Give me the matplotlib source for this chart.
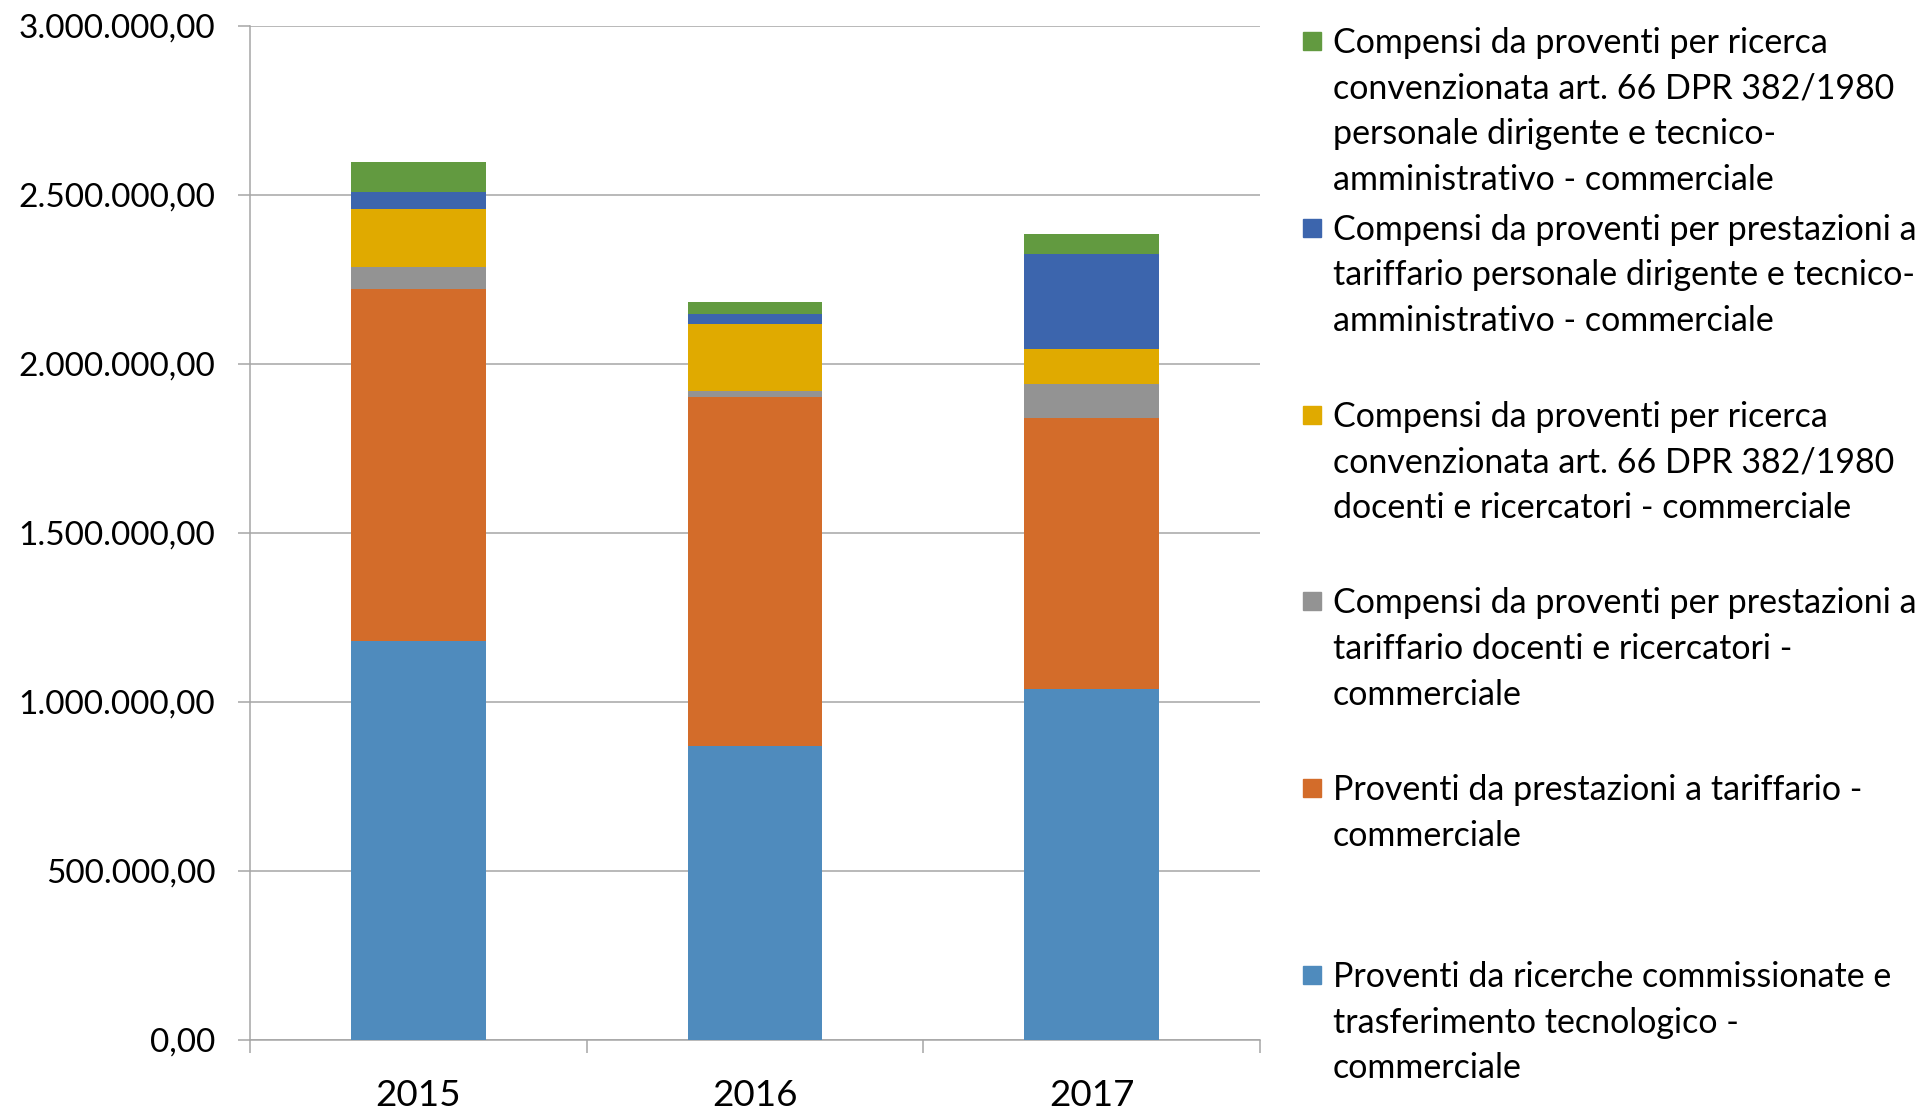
import matplotlib
matplotlib.use("Agg")
import matplotlib.pyplot as plt
import numpy as np
from matplotlib.ticker import FuncFormatter
from matplotlib.patches import Rectangle

plt.rcParams['font.family'] = ['Lato', 'DejaVu Sans']

years = ['2015', '2016', '2017']

# stacked series, bottom to top
ricerche_commissionate = [1181000, 871000, 1039000]
prestazioni_tariffario = [1042000, 1030000, 800000]
comp_tariffario_docenti = [64000, 19500, 101500]
comp_ricerca_docenti = [173000, 198500, 103000]
comp_tariffario_dirigenti = [49000, 29500, 283000]
comp_ricerca_dirigenti = [89000, 34000, 58000]

series = [ricerche_commissionate, prestazioni_tariffario, comp_tariffario_docenti,
          comp_ricerca_docenti, comp_tariffario_dirigenti, comp_ricerca_dirigenti]
labels = [
    ["Proventi da ricerche commissionate e", "trasferimento tecnologico -", "commerciale"],
    ["Proventi da prestazioni a tariffario -", "commerciale"],
    ["Compensi da proventi per prestazioni a", "tariffario docenti e ricercatori -", "commerciale"],
    ["Compensi da proventi per ricerca", "convenzionata art. 66 DPR 382/1980",
     "docenti e ricercatori - commerciale"],
    ["Compensi da proventi per prestazioni a", "tariffario personale dirigente e tecnico-",
     "amministrativo - commerciale"],
    ["Compensi da proventi per ricerca", "convenzionata art. 66 DPR 382/1980",
     "personale dirigente e tecnico-", "amministrativo - commerciale"],
]
colors = ['#4f8bbd', '#d36c2a', '#939393', '#e0aa00', '#3c65ad', '#629a40']

W, H = 1931, 1111
fig = plt.figure(figsize=(W / 100, H / 100), dpi=100)
ax = fig.add_axes([250 / W, (H - 1040) / H, 1010 / W, (1040 - 26) / H])

x = np.arange(len(years))
bottom = np.zeros(len(years))
for vals, col in zip(series, colors):
    ax.bar(x, vals, width=0.4, bottom=bottom, color=col, zorder=3)
    bottom += np.array(vals)

ax.set_xlim(-0.5, 2.5)
ax.set_ylim(0, 3000000)
ax.set_yticks(np.arange(0, 3000001, 500000))


def it_fmt(v, pos):
    s = f"{v:,.2f}"
    return s.replace(',', 'X').replace('.', ',').replace('X', '.')


ax.yaxis.set_major_formatter(FuncFormatter(it_fmt))
ax.grid(axis='y', color='#a6a6a6', linewidth=1.1, zorder=0)
for s in ['top', 'right']:
    ax.spines[s].set_visible(False)
for s in ['left', 'bottom']:
    ax.spines[s].set_color('#a6a6a6')
    ax.spines[s].set_linewidth(1.1)

ax.set_xticks(x)
ax.set_xticklabels(years)
ax.set_xticks([-0.5, 0.5, 1.5, 2.5], minor=True)
ax.tick_params(axis='x', which='major', length=0, pad=28, labelsize=26.5)
ax.tick_params(axis='x', which='minor', length=9, width=1.1, color='#a6a6a6')
ax.tick_params(axis='y', length=9, width=1.1, color='#a6a6a6', pad=16, labelsize=24)

# legend, top entry first (reverse of stacking order)
slot = 186.8
step = 45.6
for i, idx in enumerate(range(len(series) - 1, -1, -1)):
    base = 53 + i * slot
    fig.patches.append(Rectangle((1303 / W, 1 - (base - 3) / H), 18 / W, 18 / H,
                                 transform=fig.transFigure, color=colors[idx]))
    for k, line in enumerate(labels[idx]):
        fig.text(1333 / W, 1 - (base + k * step) / H, line, fontsize=24.5,
                 va='baseline', ha='left')

fig.savefig('out.png', dpi=100)
